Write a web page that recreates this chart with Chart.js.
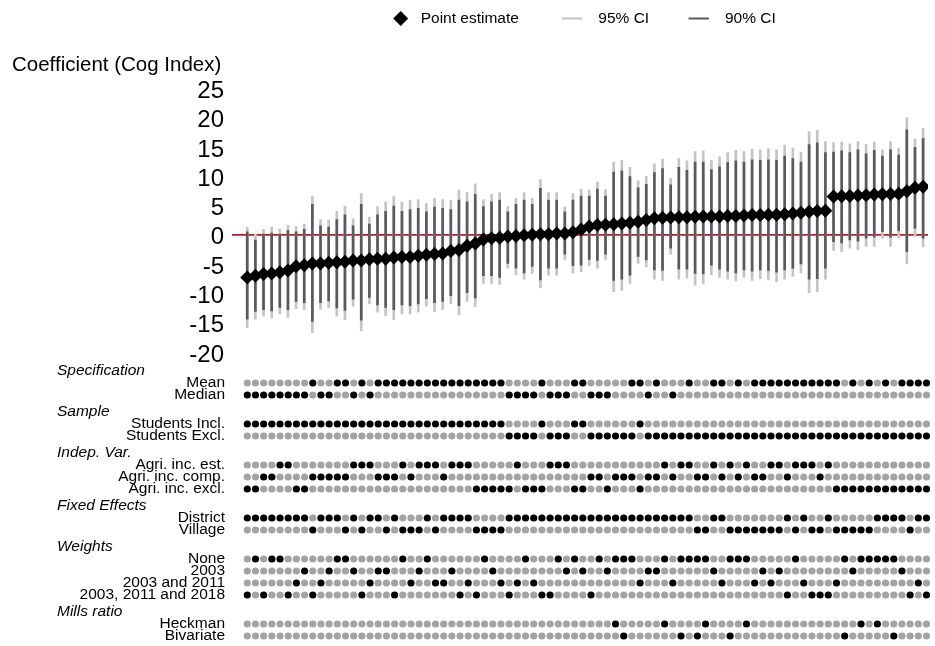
<!DOCTYPE html>
<html>
<head>
<meta charset="utf-8">
<script src="https://cdn.jsdelivr.net/npm/chart.js@4.4.1/dist/chart.umd.min.js"></script>
<style>
  html, body { margin: 0; padding: 0; background: #fff; }
  #wrap { position: relative; width: 935px; height: 646px; }
  #wrap canvas { position: absolute; left: 0; top: 0; }
</style>
</head>
<body>
<div id="wrap">
  <canvas id="coef" width="935" height="646"></canvas>
  <canvas id="spec" width="935" height="646"></canvas>
</div>
<script>
// ---- Estimates, sorted from lowest to highest -------------------------------
const estimate = [
  -7.2, -6.9, -6.6, -6.5, -6.3, -6.0, -5.3, -5.1, -4.8, -4.8,
  -4.7, -4.6, -4.5, -4.3, -4.3, -4.1, -4.0, -4.0, -3.8, -3.7,
  -3.7, -3.5, -3.3, -3.2, -3.1, -2.7, -2.5, -1.8, -1.4, -0.7,
  -0.5, -0.4, -0.2, -0.1, 0.0, 0.1, 0.2, 0.2, 0.3, 0.3,
  0.5, 1.0, 1.5, 1.75, 1.8, 1.9, 2.0, 2.15, 2.3, 2.6,
  2.9, 3.0, 3.05, 3.1, 3.1, 3.15, 3.2, 3.2, 3.2, 3.3,
  3.3, 3.4, 3.45, 3.45, 3.5, 3.5, 3.6, 3.7, 3.85, 4.0,
  4.15, 4.2, 6.6, 6.65, 6.7, 6.8, 6.85, 6.95, 7.0, 7.05,
  7.1, 7.5, 8.1, 8.3
];
const ci95Low = [
  -15.7, -14.3, -13.8, -14.1, -13.4, -14.0, -12.5, -12.7, -16.6, -12.6,
  -12.4, -13.8, -14.4, -12.1, -16.3, -11.7, -13.1, -13.7, -14.4, -13.4,
  -13.4, -13.1, -12.1, -13.0, -12.7, -11.7, -13.6, -11.3, -12.2, -8.2,
  -8.2, -8.4, -5.6, -6.7, -7.5, -6.5, -9.0, -6.8, -6.8, -4.1,
  -6.4, -6.2, -5.2, -5.6, -4.2, -9.6, -9.4, -8.2, -4.8, -5.4,
  -7.5, -7.7, -3.2, -7.5, -7.3, -8.5, -8.3, -6.7, -7.2, -7.5,
  -7.8, -7.2, -7.7, -7.4, -7.6, -7.9, -7.5, -7.0, -6.4, -9.8,
  -9.6, -7.5, -2.6, -2.8, -2.2, -2.5, -1.9, -1.9, -0.5, -1.9,
  -0.5, -4.9, -0.2, -2.0
];
const ci90Low = [
  -14.3, -13.0, -12.7, -12.9, -12.3, -12.7, -11.3, -11.5, -14.7, -11.5,
  -11.2, -12.4, -12.8, -10.9, -14.5, -10.6, -11.9, -12.3, -12.7, -11.9,
  -12.0, -11.7, -10.8, -11.5, -11.3, -10.3, -12.0, -9.8, -10.7, -6.9,
  -6.9, -7.2, -4.8, -5.6, -6.4, -5.3, -7.6, -5.6, -5.6, -3.2,
  -5.2, -5.1, -4.1, -4.3, -3.2, -7.7, -7.5, -6.8, -3.6, -4.2,
  -5.9, -6.0, -2.2, -5.8, -5.8, -6.5, -6.6, -5.1, -5.8, -6.1,
  -6.4, -5.9, -6.1, -5.9, -6.0, -6.3, -5.9, -5.6, -4.9, -7.5,
  -7.4, -5.6, -1.1, -1.3, -0.8, -1.0, -0.5, -0.3, 0.6, -0.3,
  0.8, -2.8, 1.2, -0.5
];
const ci90High = [
  0.6, -0.8, 0.2, 0.4, 0.2, 0.8, 0.6, 1.0, 5.3, 1.6,
  1.4, 2.7, 3.5, 1.6, 5.3, 1.9, 3.5, 4.1, 5.0, 4.1,
  4.4, 4.6, 4.0, 4.8, 4.6, 4.4, 6.0, 5.7, 7.0, 4.9,
  5.7, 6.0, 4.0, 5.3, 6.0, 5.3, 8.0, 6.0, 6.0, 4.0,
  6.0, 6.7, 6.7, 7.9, 6.7, 10.8, 11.0, 10.0, 8.1, 8.7,
  10.7, 11.4, 8.6, 11.6, 11.1, 12.5, 12.5, 11.2, 11.7, 12.4,
  12.7, 12.5, 12.9, 12.8, 12.9, 12.8, 13.5, 13.1, 12.5, 15.5,
  15.8, 14.1, 14.2, 14.4, 14.1, 14.6, 13.9, 14.5, 13.5, 14.6,
  13.7, 18.0, 15.0, 16.5
];
const ci95High = [
  1.4, 0.2, 1.0, 1.4, 1.1, 1.7, 1.5, 1.9, 6.7, 2.7,
  2.6, 4.1, 5.0, 2.8, 7.1, 3.1, 4.9, 5.7, 6.6, 5.7,
  6.0, 6.1, 5.4, 6.3, 6.1, 6.0, 7.7, 7.3, 8.8, 6.1,
  7.0, 7.3, 4.9, 6.3, 7.3, 6.3, 9.5, 7.3, 7.3, 4.8,
  7.1, 7.9, 7.7, 9.1, 7.8, 12.5, 12.8, 11.6, 9.3, 10.0,
  12.2, 13.0, 9.7, 13.1, 12.7, 14.3, 14.4, 12.8, 13.4, 14.1,
  14.5, 14.3, 14.7, 14.6, 14.8, 14.6, 15.4, 14.9, 14.2, 17.7,
  17.9, 16.0, 15.8, 15.9, 15.6, 16.0, 15.5, 15.9, 14.6, 16.0,
  14.9, 20.1, 16.4, 18.2
];
const yTicks = [-20, -15, -10, -5, 0, 5, 10, 15, 20, 25];

// ---- Specification choices: indices of the estimates using each option -------
const specMean = [8, 11, 12, 14, 16, 17, 18, 19, 20, 21, 22, 23, 24, 25, 26, 27, 28, 29, 30, 31,
  36, 40, 41, 47, 48, 50, 54, 57, 58, 60, 62, 63, 64, 65, 66, 67, 68, 69, 70, 71, 72, 74, 76, 78,
  80, 81, 82, 83];
const specMedian = [0, 1, 2, 3, 4, 5, 6, 7, 9, 10, 13, 15, 32, 33, 34, 35, 37, 38, 39, 42, 43, 44,
  49, 52];
const sampleIncl = [0, 1, 2, 3, 4, 5, 6, 7, 8, 9, 10, 11, 12, 13, 14, 15, 16, 17, 18, 19, 20, 21,
  22, 23, 24, 25, 26, 27, 28, 29, 30, 31, 36, 40, 41, 48];
const sampleExcl = [32, 33, 34, 35, 37, 38, 39, 42, 43, 44, 45, 46, 47, 49, 50, 51, 52, 53, 54, 55,
  56, 57, 58, 59, 60, 61, 62, 63, 64, 65, 66, 67, 68, 69, 70, 71, 72, 73, 74, 75, 76, 77, 78, 79,
  80, 81, 82, 83];
const agriEst = [4, 5, 13, 14, 15, 19, 21, 22, 23, 25, 26, 27, 33, 37, 38, 39, 51, 53, 54, 57, 59,
  61, 64, 65, 67, 68, 69, 71];
const agriComp = [2, 3, 8, 9, 10, 11, 12, 16, 17, 18, 20, 24, 42, 43, 45, 46, 47, 49, 50, 52, 55,
  56, 58, 60, 62, 63, 66, 70];
const agriExcl = [0, 1, 6, 7, 28, 29, 30, 31, 32, 34, 35, 36, 40, 41, 44, 48, 72, 73, 74, 75, 76,
  77, 78, 79, 80, 81, 82, 83];
const feDistrict = [0, 1, 2, 3, 4, 5, 6, 7, 9, 10, 11, 13, 15, 16, 18, 22, 24, 25, 26, 27, 32, 33,
  34, 35, 36, 37, 38, 39, 40, 41, 42, 43, 44, 45, 46, 47, 48, 49, 50, 51, 52, 53, 54, 57, 58, 66,
  68, 71, 77, 78, 79, 80, 82, 83];
const feVillage = [8, 12, 14, 17, 19, 20, 21, 23, 28, 29, 30, 31, 55, 56, 59, 60, 61, 62, 63, 64,
  65, 67, 69, 70, 72, 73, 74, 75, 76, 81];
const wNone = [1, 3, 4, 11, 12, 19, 22, 29, 34, 38, 40, 43, 45, 46, 47, 51, 53, 54, 55, 56, 59,
  60, 61, 67, 73, 75, 76, 77, 78, 79];
const w2003 = [7, 10, 13, 16, 17, 21, 25, 30, 39, 41, 44, 49, 50, 57, 63, 65, 74, 80];
const w2003_2011 = [6, 9, 15, 20, 23, 24, 27, 31, 33, 35, 48, 52, 58, 62, 64, 68, 72, 82];
const w2003_2011_2018 = [0, 2, 5, 8, 14, 18, 26, 28, 32, 36, 37, 42, 66, 69, 70, 71, 81, 83];
const millsHeckman = [45, 51, 56, 61, 75, 77];
const millsBivariate = [46, 53, 55, 59, 73, 79];

const groups = [
  { title: 'Specification', rows: [['Mean', specMean], ['Median', specMedian]] },
  { title: 'Sample', rows: [['Students Incl.', sampleIncl], ['Students Excl.', sampleExcl]] },
  { title: 'Indep. Var.', rows: [['Agri. inc. est.', agriEst], ['Agri. inc. comp.', agriComp],
                                 ['Agri. inc. excl.', agriExcl]] },
  { title: 'Fixed Effects', rows: [['District', feDistrict], ['Village', feVillage]] },
  { title: 'Weights', rows: [['None', wNone], ['2003', w2003], ['2003 and 2011', w2003_2011],
                             ['2003, 2011 and 2018', w2003_2011_2018]] },
  { title: 'Mills ratio', rows: [['Heckman', millsHeckman], ['Bivariate', millsBivariate]] }
];

// ---- Shared look ------------------------------------------------------------
const FONT = '"Liberation Sans", Arial, Helvetica, sans-serif';
const COL_95 = '#c4c4c4';
const COL_90 = '#5a5a5a';
const COL_ZERO = '#c8102e';
const COL_OFF = '#a3a3a3';
const X_MIN = -1.87, X_MAX = 83.6;           // same horizontal scale in both panels
const AXIS_RIGHT = 232;                      // left edge of both plotting areas

const n = estimate.length;
const idx = Array.from({ length: n }, (_, i) => i);

// Legend row above the title, built from the dataset styles
const legendRow = {
  id: 'legendRow',
  afterDraw(chart) {
    const ctx = chart.ctx;
    const y = 18.5;
    const ds = chart.data.datasets;
    ctx.save();
    ctx.font = '15.5px ' + FONT;
    ctx.fillStyle = '#000';
    ctx.textBaseline = 'middle';
    ctx.textAlign = 'left';
    Chart.helpers.drawPoint(ctx, { pointStyle: 'rectRot', radius: 7.5, borderWidth: 0 }, 400.7, y);
    ctx.fillText(ds[0].label, 420.7, y);
    const lines = [[ds[2], 561.7, 598.3], [ds[1], 688.5, 725]];
    lines.forEach(([d, x0, tx]) => {
      ctx.strokeStyle = d.backgroundColor;
      ctx.lineWidth = 2;
      ctx.beginPath();
      ctx.moveTo(x0, y);
      ctx.lineTo(x0 + 20.5, y);
      ctx.stroke();
      ctx.fillText(d.label, tx, y);
    });
    ctx.restore();
  }
};

new Chart(document.getElementById('coef'), {
  type: 'bar',
  data: {
    datasets: [
      {
        type: 'scatter',
        label: 'Point estimate',
        data: idx.map(i => ({ x: i, y: estimate[i] })),
        pointStyle: 'rectRot',
        pointRadius: 7,
        pointHoverRadius: 7,
        backgroundColor: '#000',
        borderWidth: 0,
        order: 0
      },
      {
        label: '90% CI',
        data: idx.map(i => ({ x: i, y: [ci90Low[i], ci90High[i]] })),
        backgroundColor: COL_90,
        barThickness: 2,
        grouped: false,
        borderWidth: 0,
        order: 1
      },
      {
        label: '95% CI',
        data: idx.map(i => ({ x: i, y: [ci95Low[i], ci95High[i]] })),
        backgroundColor: COL_95,
        barThickness: 2,
        grouped: false,
        borderWidth: 0,
        order: 2
      }
    ]
  },
  options: {
    responsive: false,
    animation: false,
    events: [],
    layout: { padding: { left: 12, right: 2.2, top: 40, bottom: 293.5 } },
    plugins: {
      legend: { display: false },
      tooltip: { enabled: false },
      title: {
        display: true,
        text: 'Coefficient (Cog Index)',
        align: 'start',
        color: '#000',
        font: { family: FONT, size: 20.5, weight: 'normal' },
        padding: { top: 13.4, bottom: 10.8 }
      }
    },
    scales: {
      x: { type: 'linear', min: X_MIN, max: X_MAX, offset: false, display: false },
      y: {
        min: yTicks[0],
        max: yTicks[yTicks.length - 1],
        afterBuildTicks: s => { s.ticks = yTicks.map(v => ({ value: v })); },
        ticks: { autoSkip: false, color: '#000', font: { family: FONT, size: 24 }, padding: 8, labelOffset: 2.5 },
        grid: {
          drawTicks: false,
          color: c => (c.tick && c.tick.value === 0 ? COL_ZERO : 'rgba(0,0,0,0)'),
          lineWidth: c => (c.tick && c.tick.value === 0 ? 1.8 : 0)
        },
        border: { display: false },
        afterFit: s => { s.width = AXIS_RIGHT - 12; }
      }
    }
  },
  plugins: [legendRow]
});

// ---- Specification matrix -----------------------------------------------------
const ROW_STEP = 12, GROUP_GAP = 17;
const rowPos = [], rowLabel = new Map(), groupTop = [];
const onPts = [], offPts = [];
let k = 0;
groups.forEach((g, gi) => {
  g.rows.forEach(([label, members], ri) => {
    const pos = k * ROW_STEP + gi * GROUP_GAP;
    if (ri === 0) groupTop.push([g.title, pos]);
    rowPos.push(pos);
    rowLabel.set(pos, label);
    const set = new Set(members);
    idx.forEach(i => (set.has(i) ? onPts : offPts).push({ x: i, y: pos }));
    k++;
  });
});

const groupTitles = {
  id: 'groupTitles',
  afterDraw(chart) {
    const ctx = chart.ctx, y = chart.scales.y;
    ctx.save();
    ctx.font = 'italic 15.5px ' + FONT;
    ctx.fillStyle = '#000';
    ctx.textAlign = 'left';
    ctx.textBaseline = 'middle';
    groupTop.forEach(([title, pos]) => ctx.fillText(title, 57, y.getPixelForValue(pos - 12.5)));
    ctx.restore();
  }
};

new Chart(document.getElementById('spec'), {
  type: 'scatter',
  data: {
    datasets: [
      { data: onPts, backgroundColor: '#000', pointRadius: 3.6, pointHoverRadius: 3.6, borderWidth: 0 },
      { data: offPts, backgroundColor: COL_OFF, pointRadius: 3.6, pointHoverRadius: 3.6, borderWidth: 0 }
    ]
  },
  options: {
    responsive: false,
    animation: false,
    events: [],
    layout: { padding: { left: 0, right: 2.2, top: 373, bottom: 4 } },
    plugins: { legend: { display: false }, tooltip: { enabled: false } },
    scales: {
      x: { type: 'linear', min: X_MIN, max: X_MAX, offset: false, display: false },
      y: {
        type: 'linear',
        reverse: true,
        min: -10,
        max: 259,
        afterBuildTicks: s => { s.ticks = rowPos.map(v => ({ value: v })); },
        ticks: {
          autoSkip: false,
          callback: v => rowLabel.get(v),
          color: '#000',
          font: { family: FONT, size: 15.5 },
          padding: 7
        },
        grid: { display: false, drawTicks: false },
        border: { display: false },
        afterFit: s => { s.width = AXIS_RIGHT; s.paddingTop = 0; s.paddingBottom = 0; }
      }
    }
  },
  plugins: [groupTitles]
});
</script>
</body>
</html>
